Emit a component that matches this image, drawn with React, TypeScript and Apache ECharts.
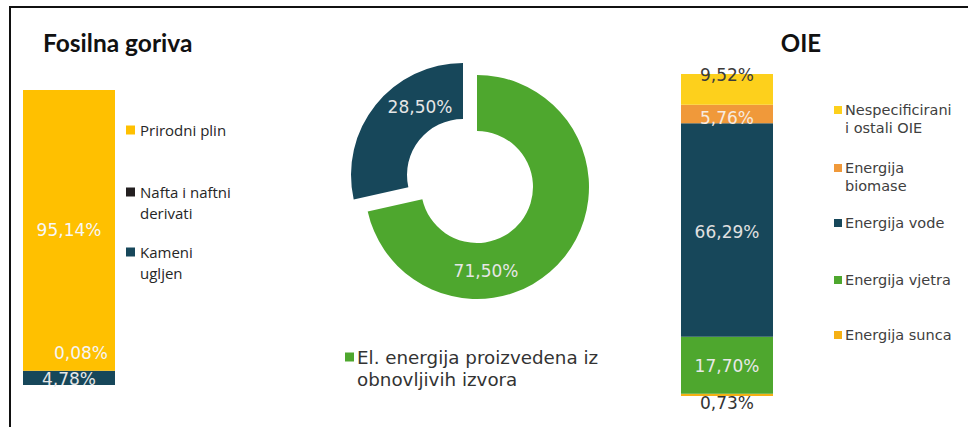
import React, { useEffect, useRef } from 'react';
import * as echarts from 'echarts';

// ---- data ----
const titles = ['Fosilna goriva', 'OIE'];
// stacked bottom -> top
const fossilNames = ['Kameni\nugljen', 'Nafta i naftni\nderivati', 'Prirodni plin'];
const fossilValues = [4.78, 0.08, 95.14];
const oieNames = ['Energija sunca', 'Energija vjetra', 'Energija vode', 'Energija\nbiomase', 'Nespecificirani\ni ostali OIE'];
const oieValues = [0.73, 17.7, 66.29, 5.76, 9.52];
const pieNames = ['El. energija proizvedena iz\nobnovljivih izvora', 'Fosilna goriva'];
const pieValues = [71.5, 28.5];

// ---- styles ----
const fossilColors = ['#17475A', '#231F20', '#FFC000'];
const oieColors = ['#F5B014', '#4EA72E', '#17475A', '#F0993A', '#FDD01C'];
const pieColors = ['#4EA72E', '#17475A'];
const labelFont = 'DejaVu Sans, Verdana, sans-serif';

const fmt = (v: number) => v.toFixed(2).replace('.', ',') + '%';

const fossilLabel = [
  { position: 'inside', color: '#e8e8e8', offset: [0, 1] },
  { position: 'top', color: '#f5f5f5', offset: [12, -4] },
  { position: 'inside', color: '#f7f7f7', offset: [0, 0] },
];
const oieLabel = [
  { position: 'bottom', color: '#333333', offset: [0, -2], distance: 0 },
  { position: 'inside', color: '#e8e8e8', offset: [0, 1] },
  { position: 'inside', color: '#e0e0e0', offset: [0, 2] },
  { position: 'inside', color: '#f7ebe0', offset: [0, 4] },
  { position: 'inside', color: '#3b3b3b', offset: [0, -14] },
];

// pie: each slice drawn by its own series so the fossil slice can be pulled out
const pieCenters = [
  [477, 187],
  [463, 175],
];
const pieLabelPos = [
  { x: 486, y: 271 },
  { x: 420, y: 107 },
];

function legendBlock(
  names: string[],
  colors: string[],
  x: number,
  ys: number[],
  sq: number,
  textX: number,
  font: string,
  size: number,
  lh: number,
  color: string
) {
  const els: any[] = [];
  names.forEach((n, i) => {
    els.push({
      type: 'rect',
      shape: { x, y: ys[i] - sq / 2, width: sq, height: sq },
      style: { fill: colors[i] },
      silent: true,
    });
    els.push({
      type: 'text',
      x: textX,
      y: ys[i] - lh / 2,
      style: {
        text: n,
        fill: color,
        font: `${size}px ${font}`,
        lineHeight: lh,
        verticalAlign: 'top',
        align: 'left',
      },
      silent: true,
    });
  });
  return els;
}

export default function App() {
  const ref = useRef<HTMLDivElement>(null);
  useEffect(() => {
    if (!ref.current) return;
    const chart = echarts.init(ref.current, null, { renderer: 'svg' });

    const fossilSeries = fossilNames.map((n, i) => ({
      type: 'bar',
      name: n,
      stack: 'f',
      xAxisIndex: 0,
      yAxisIndex: 0,
      barWidth: '100%',
      data: [fossilValues[i]],
      itemStyle: { color: fossilColors[i] },
      label: {
        show: true,
        position: fossilLabel[i].position,
        offset: fossilLabel[i].offset,
        color: fossilLabel[i].color,
        fontFamily: labelFont,
        fontSize: 17,
        formatter: (p: any) => fmt(p.value),
      },
      silent: true,
    }));

    const oieSeries = oieNames.map((n, i) => ({
      type: 'bar',
      name: n,
      stack: 'o',
      xAxisIndex: 1,
      yAxisIndex: 1,
      barWidth: '100%',
      data: [oieValues[i]],
      itemStyle: { color: oieColors[i] },
      label: {
        show: true,
        position: oieLabel[i].position,
        offset: oieLabel[i].offset,
        distance: (oieLabel[i] as any).distance ?? 5,
        color: oieLabel[i].color,
        fontFamily: labelFont,
        fontSize: 17,
        formatter: (p: any) => fmt(p.value),
      },
      silent: true,
    }));

    const pieSeries = pieNames.map((_, s) => ({
      type: 'pie',
      center: pieCenters[s],
      radius: [56, 112],
      startAngle: 90,
      clockwise: true,
      silent: true,
      emphasis: { scale: false },
      data: pieNames.map((n, i) => ({
        name: n,
        value: pieValues[i],
        itemStyle: { color: i === s ? pieColors[i] : 'rgba(0,0,0,0)' },
        label: { show: i === s },
      })),
      label: {
        show: true,
        position: 'inside',
        color: '#e6e6e6',
        fontFamily: labelFont,
        fontSize: 17,
        formatter: (p: any) => fmt(p.value),
      },
      labelLine: { show: false },
      labelLayout: (p: any) => pieLabelPos[p.dataIndex],
    }));

    // legend order top -> bottom is reverse of stacking
    const fossilLegendNames = [...fossilNames].reverse();
    const fossilLegendColors = [...fossilColors].reverse();
    const oieLegendNames = [...oieNames].reverse();
    const oieLegendColors = [...oieColors].reverse();

    const graphic: any[] = [
      { type: 'rect', shape: { x: 9, y: 6, width: 959, height: 2 }, style: { fill: '#111' }, silent: true },
      { type: 'rect', shape: { x: 9, y: 6, width: 2, height: 421 }, style: { fill: '#111' }, silent: true },
      {
        type: 'text',
        x: 43,
        y: 42,
        style: { text: titles[0], font: 'bold 24.5px Lato, sans-serif', fill: '#111', verticalAlign: 'middle', align: 'left' },
        silent: true,
      },
      {
        type: 'text',
        x: 801,
        y: 42,
        style: { text: titles[1], font: 'bold 24px Lato, sans-serif', fill: '#111', verticalAlign: 'middle', align: 'center' },
        silent: true,
      },
      ...legendBlock(fossilLegendNames, fossilLegendColors, 126, [130, 192, 252], 9, 140, '"Open Sans", sans-serif', 15, 21, '#262626'),
      ...legendBlock(oieLegendNames, oieLegendColors, 834, [110, 168, 223, 280, 335], 8, 845, labelFont, 14.5, 18, '#404040'),
      ...legendBlock([pieNames[0]], [pieColors[0]], 345, [357], 9, 357, labelFont, 18.3, 22, '#333333'),
    ];

    const option: any = {
      animation: false,
      grid: [
        { left: 23, top: 90, width: 92, height: 295 },
        { left: 681, top: 74, width: 92, height: 322 },
      ],
      xAxis: [
        { type: 'category', gridIndex: 0, data: [''], show: false },
        { type: 'category', gridIndex: 1, data: [''], show: false },
      ],
      yAxis: [
        { type: 'value', gridIndex: 0, min: 0, max: 100, show: false },
        { type: 'value', gridIndex: 1, min: 0, max: 100, show: false },
      ],
      series: [...fossilSeries, ...oieSeries, ...pieSeries],
      graphic,
    };
    chart.setOption(option);
    return () => chart.dispose();
  }, []);
  return (
    <div
      ref={ref}
      style={{ position: 'fixed', left: 0, top: 0, width: 968, height: 427, background: '#fff' }}
    />
  );
}
